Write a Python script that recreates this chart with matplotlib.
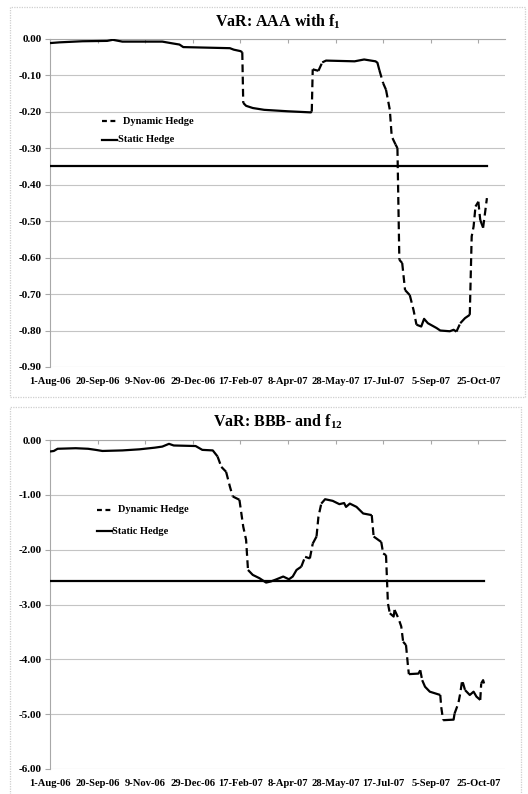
import matplotlib
matplotlib.use("Agg")
import matplotlib.pyplot as plt
import matplotlib.dates as mdates
from matplotlib.lines import Line2D
from matplotlib.patches import Rectangle
import numpy as np
import pandas as pd

# ---- data -------------------------------------------------------------
aaa_dates = ["2006-08-01", "2006-08-11", "2006-09-04", "2006-09-30", "2006-10-06",
             "2006-10-16", "2006-11-27", "2006-12-08", "2006-12-15", "2006-12-19",
             "2007-02-06", "2007-02-10", "2007-02-17", "2007-02-19", "2007-02-20",
             "2007-02-23", "2007-03-02", "2007-03-14", "2007-04-08", "2007-05-02",
             "2007-05-03", "2007-05-04", "2007-05-10", "2007-05-14", "2007-05-18",
             "2007-06-17", "2007-06-27", "2007-07-09", "2007-07-11", "2007-07-13",
             "2007-07-17", "2007-07-20", "2007-07-24", "2007-07-26", "2007-07-30",
             "2007-08-01", "2007-08-03", "2007-08-06", "2007-08-09", "2007-08-14",
             "2007-08-18", "2007-08-21", "2007-08-26", "2007-08-29", "2007-09-02",
             "2007-09-11", "2007-09-15", "2007-09-25", "2007-09-29", "2007-10-02",
             "2007-10-06", "2007-10-11", "2007-10-16", "2007-10-18", "2007-10-20",
             "2007-10-22", "2007-10-25", "2007-10-27", "2007-10-30", "2007-11-01",
             "2007-11-03"]
aaa_dynamic = [-0.012, -0.010, -0.007, -0.006, -0.003,
               -0.008, -0.008, -0.013, -0.016, -0.023,
               -0.026, -0.030, -0.034, -0.037, -0.176,
               -0.184, -0.190, -0.195, -0.199, -0.202,
               -0.200, -0.084, -0.088, -0.065, -0.060,
               -0.062, -0.057, -0.062, -0.066, -0.086,
               -0.122, -0.140, -0.195, -0.268, -0.290,
               -0.300, -0.606, -0.615, -0.689, -0.703,
               -0.745, -0.784, -0.789, -0.768, -0.780,
               -0.793, -0.800, -0.802, -0.798, -0.803,
               -0.780, -0.766, -0.757, -0.542, -0.515,
               -0.460, -0.447, -0.497, -0.518, -0.478,
               -0.437]
aaa_static = -0.35

bbb_dates = ["2006-08-01", "2006-08-05", "2006-08-09", "2006-08-28", "2006-09-10",
             "2006-09-18", "2006-09-25", "2006-10-16", "2006-11-03", "2006-11-19",
             "2006-11-27", "2006-12-04", "2006-12-09", "2007-01-01", "2007-01-08",
             "2007-01-19", "2007-01-24", "2007-01-28", "2007-02-02", "2007-02-06",
             "2007-02-09", "2007-02-16", "2007-02-20", "2007-02-23", "2007-02-25",
             "2007-03-02", "2007-03-09", "2007-03-16", "2007-03-21", "2007-03-27",
             "2007-04-03", "2007-04-09", "2007-04-13", "2007-04-17", "2007-04-22",
             "2007-04-26", "2007-05-01", "2007-05-04", "2007-05-08", "2007-05-10",
             "2007-05-13", "2007-05-17", "2007-05-25", "2007-06-01", "2007-06-06",
             "2007-06-08", "2007-06-12", "2007-06-19", "2007-06-26", "2007-07-05",
             "2007-07-07", "2007-07-15", "2007-07-17", "2007-07-20", "2007-07-22",
             "2007-07-24", "2007-07-28", "2007-07-29", "2007-08-02", "2007-08-05",
             "2007-08-07", "2007-08-10", "2007-08-12", "2007-08-13", "2007-08-23",
             "2007-08-25", "2007-08-27", "2007-08-30", "2007-09-04", "2007-09-15",
             "2007-09-16", "2007-09-18", "2007-09-29", "2007-09-30", "2007-10-04",
             "2007-10-06", "2007-10-08", "2007-10-11", "2007-10-16", "2007-10-20",
             "2007-10-23", "2007-10-27", "2007-10-28", "2007-10-30", "2007-10-31"]
bbb_dynamic = [-0.21, -0.20, -0.16, -0.15, -0.16,
               -0.18, -0.20, -0.19, -0.17, -0.14,
               -0.12, -0.07, -0.10, -0.11, -0.18,
               -0.19, -0.30, -0.49, -0.58, -0.85,
               -1.03, -1.09, -1.58, -1.82, -2.37,
               -2.46, -2.52, -2.60, -2.58, -2.54,
               -2.49, -2.54, -2.49, -2.37, -2.31,
               -2.13, -2.16, -1.89, -1.76, -1.40,
               -1.16, -1.08, -1.11, -1.17, -1.15,
               -1.22, -1.16, -1.22, -1.34, -1.37,
               -1.76, -1.86, -2.07, -2.10, -2.98,
               -3.16, -3.22, -3.10, -3.25, -3.40,
               -3.68, -3.74, -4.11, -4.27, -4.26,
               -4.20, -4.38, -4.50, -4.59, -4.65,
               -4.87, -5.11, -5.10, -4.99, -4.80,
               -4.62, -4.38, -4.56, -4.65, -4.59,
               -4.68, -4.74, -4.44, -4.38, -4.44]
bbb_static = -2.57

tick_dates = ["2006-08-01", "2006-09-20", "2006-11-09", "2006-12-29", "2007-02-17",
              "2007-04-08", "2007-05-28", "2007-07-17", "2007-09-05", "2007-10-25"]
series_labels = ["Dynamic Hedge", "Static Hedge"]

# ---- styling ----------------------------------------------------------
W, H = 528, 794
FONT = "Liberation Serif"
plt.rcParams["font.family"] = [FONT, "DejaVu Serif"]
plt.rcParams["font.weight"] = "bold"
plt.rcParams["mathtext.fontset"] = "custom"
plt.rcParams["mathtext.rm"] = f"{FONT}:bold"
plt.rcParams["mathtext.bf"] = f"{FONT}:bold"
plt.rcParams["mathtext.it"] = f"{FONT}:bold"

GRID = "#c4c4c4"
AXIS = "#a8a8a8"
DASH = (0, (3.5, 2.0))
LW = 1.6

fig = plt.figure(figsize=(W / 100, H / 100), dpi=100)


def fx(px):
    return px / W


def fy(py):
    return 1 - py / H


def draw_dynamic(ax, dates, vals):
    """Draw the series; steep moves are dashed, gentle stretches solid."""
    x = mdates.date2num(pd.to_datetime(dates))
    v = np.asarray(vals, dtype=float)
    pts = ax.transData.transform(np.column_stack([x, v]))
    steep = []
    for i in range(len(x) - 1):
        dx = abs(pts[i + 1, 0] - pts[i, 0])
        dy = abs(pts[i + 1, 1] - pts[i, 1])
        steep.append(dy > 8 and dy > 1.5 * dx)
    start = 0
    for i in range(1, len(steep) + 1):
        if i == len(steep) or steep[i] != steep[start]:
            sl = slice(start, i + 1)
            ax.plot(x[sl], v[sl], color="black", lw=LW,
                    linestyle=DASH if steep[start] else "-",
                    solid_joinstyle="round", solid_capstyle="butt",
                    dash_capstyle="butt", zorder=4)
            start = i


def make_panel(box, plot, title, dates, dyn, static, ylim, ystep, legend_pos):
    bx0, by0, bx1, by1 = box
    fig.add_artist(Rectangle((fx(bx0), fy(by1)), fx(bx1) - fx(bx0), fy(by0) - fy(by1),
                             transform=fig.transFigure, fill=False,
                             edgecolor="#cfcfcf", lw=0.9, linestyle=(0, (1, 1))))
    px0, py0, px1, py1 = plot
    ax = fig.add_axes([fx(px0), fy(py1), fx(px1) - fx(px0), fy(py0) - fy(py1)])
    x0 = mdates.date2num(pd.Timestamp("2006-08-01"))
    ax.set_xlim(x0, x0 + 478)
    ax.set_ylim(*ylim)

    yt = np.round(np.arange(ylim[0], ylim[1] + ystep / 2, ystep), 4)
    ax.set_yticks(yt)
    ax.set_yticklabels([f"{t:.2f}".replace("-0.00", "0.00") for t in yt])
    for t in yt:
        ax.axhline(t, color=GRID, lw=0.8, zorder=1)

    td = pd.to_datetime(tick_dates)
    ax.set_xticks(mdates.date2num(td))
    ax.set_xticklabels([f"{d.day}-{d.strftime('%b-%y')}" for d in td])

    for s in ["right", "bottom"]:
        ax.spines[s].set_visible(False)
    ax.spines["left"].set_color(AXIS)
    ax.spines["top"].set_color(AXIS)
    ax.spines["left"].set_linewidth(0.8)
    ax.spines["top"].set_linewidth(0.8)

    ax.tick_params(axis="x", which="both", top=True, bottom=False,
                   labeltop=False, labelbottom=True, direction="in",
                   length=3, color=AXIS, width=0.8, pad=7.5, labelsize=7.6)
    ax.tick_params(axis="y", direction="out", length=3.5, color=AXIS,
                   width=0.8, pad=2.5, labelsize=8)
    for lab in ax.get_xticklabels() + ax.get_yticklabels():
        lab.set_fontweight("bold")

    xd = mdates.date2num(pd.to_datetime(dates))
    ax.plot([xd[0], xd[-1]], [static, static], color="black", lw=LW, zorder=3)
    draw_dynamic(ax, dates, dyn)

    fig.text(fx((px0 + px1) / 2), fy(by0 + 15), title, ha="center", va="center",
             fontsize=11.5, fontweight="bold")

    lx, ly1, ly2 = legend_pos
    fig.add_artist(Line2D([fx(lx), fx(lx + 14)], [fy(ly1), fy(ly1)],
                          transform=fig.transFigure, color="black", lw=LW,
                          linestyle=(0, (2.2, 1.6))))
    fig.text(fx(lx + 21), fy(ly1), series_labels[0], ha="left", va="center",
             fontsize=7.5, fontweight="bold")
    fig.add_artist(Line2D([fx(lx), fx(lx + 15)], [fy(ly2), fy(ly2)],
                          transform=fig.transFigure, color="black", lw=LW))
    fig.text(fx(lx + 15.5), fy(ly2), series_labels[1], ha="left", va="center",
             fontsize=7.5, fontweight="bold")
    return ax


make_panel((10, 7, 525, 397), (50, 38.7, 505, 367),
           r"VaR: AAA with $\mathbf{f}_\mathbf{1}$",
           aaa_dates, aaa_dynamic, aaa_static, (-0.9, 0.0), 0.1, (102, 121, 140))
make_panel((10, 407, 521, 800), (50, 440, 505, 769),
           r"VaR: BBB- and $\mathbf{f}_\mathbf{12}$",
           bbb_dates, bbb_dynamic, bbb_static, (-6.0, 0.0), 1.0, (97, 510, 531))

fig.savefig("out.png", dpi=100)
